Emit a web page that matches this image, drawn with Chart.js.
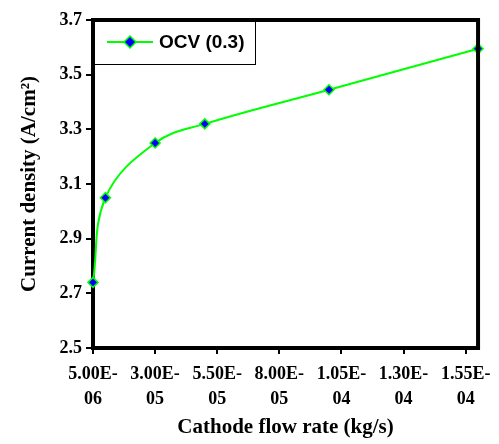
<!DOCTYPE html>
<html>
<head>
<meta charset="utf-8">
<script src="https://cdn.jsdelivr.net/npm/chart.js@4/dist/chart.umd.min.js"></script>
<style>
  html, body { margin: 0; padding: 0; background: #fff; }
  #wrap { width: 499px; height: 444px; }
</style>
</head>
<body>
<div id="wrap"><canvas id="myChart" width="499" height="444"></canvas></div>
<script>
// Data
const flowRates = [5e-6, 1e-5, 3e-5, 5e-5, 1e-4, 1.6e-4];
const currentDensity = [2.74, 3.05, 3.25, 3.32, 3.445, 3.595];
const seriesName = 'OCV (0.3)';

// Tick values and their labels
const xTickValues = [5e-6, 3e-5, 5.5e-5, 8e-5, 1.05e-4, 1.3e-4, 1.55e-4];
const xTickLabels = [['5.00E-', '06'], ['3.00E-', '05'], ['5.50E-', '05'], ['8.00E-', '05'],
                     ['1.05E-', '04'], ['1.30E-', '04'], ['1.55E-', '04']];
const yTickValues = [2.5, 2.7, 2.9, 3.1, 3.3, 3.5, 3.7];

const serif = '"Liberation Serif", "Times New Roman", serif';
const sans = '"Liberation Sans", Arial, sans-serif';

// frame on top/right + the boxed legend in the top-left corner
const framePlugin = {
  id: 'frame',
  afterDraw(chart) {
    const ctx = chart.ctx;
    const a = chart.chartArea;
    ctx.save();
    ctx.strokeStyle = '#000';
    ctx.lineWidth = 4;
    ctx.beginPath();
    ctx.moveTo(a.left - 2, a.top);
    ctx.lineTo(a.right, a.top);
    ctx.lineTo(a.right, a.bottom + 2);
    ctx.stroke();

    // legend box
    const bx = a.left, by = a.top, bw = 162, bh = 44;
    ctx.fillStyle = '#fff';
    ctx.fillRect(bx + 2, by + 2, bw - 2, bh - 2);
    ctx.lineWidth = 1;
    ctx.strokeRect(bx + 0.5, by + 0.5, bw, bh);

    const ly = by + 22;
    ctx.strokeStyle = '#00ff00';
    ctx.lineWidth = 2;
    ctx.beginPath();
    ctx.moveTo(bx + 14, ly);
    ctx.lineTo(bx + 60, ly);
    ctx.stroke();

    // diamond marker
    ctx.beginPath();
    ctx.moveTo(bx + 37, ly - 6);
    ctx.lineTo(bx + 43, ly);
    ctx.lineTo(bx + 37, ly + 6);
    ctx.lineTo(bx + 31, ly);
    ctx.closePath();
    ctx.fillStyle = '#0000ff';
    ctx.fill();
    ctx.lineWidth = 1.5;
    ctx.stroke();

    ctx.fillStyle = '#000';
    ctx.font = 'bold 19px ' + sans;
    ctx.textBaseline = 'middle';
    ctx.fillText(seriesName, bx + 66, ly + 1);
    ctx.restore();
  }
};

const data = {
  datasets: [{
    label: seriesName,
    data: flowRates.map((x, i) => ({ x: x, y: currentDensity[i] })),
    borderColor: '#00ff00',
    borderWidth: 2,
    backgroundColor: '#0000ff',
    pointStyle: 'rectRot',
    pointRadius: 5,
    pointBorderWidth: 1.5,
    pointBorderColor: '#00ff00',
    pointBackgroundColor: '#0000ff',
    tension: 0.4,
    clip: false
  }]
};

const config = {
  type: 'scatter',
  data: data,
  options: {
    responsive: false,
    animation: false,
    showLine: true,
    layout: { padding: { left: 0, top: 20, right: 19, bottom: 0 } },
    plugins: {
      legend: { display: false },
      tooltip: { enabled: false }
    },
    scales: {
      x: {
        type: 'linear',
        min: 5e-6,
        max: 1.6e-4,
        afterFit: (scale) => { scale.height = 96; },
        afterBuildTicks: (scale) => { scale.ticks = xTickValues.map(v => ({ value: v })); },
        border: { display: true, color: '#000', width: 4 },
        grid: { drawOnChartArea: false, drawTicks: true, tickLength: 6, color: '#000', lineWidth: 2 },
        ticks: {
          color: '#000',
          padding: 8,
          maxRotation: 0,
          autoSkip: false,
          font: { family: serif, size: 18, weight: 'bold', lineHeight: 1.4 },
          callback: (value, index) => xTickLabels[index]
        },
        title: {
          display: true,
          text: 'Cathode flow rate (kg/s)',
          color: '#000',
          font: { family: serif, size: 21, weight: 'bold' },
          padding: { top: 0, bottom: 4 }
        }
      },
      y: {
        min: 2.5,
        max: 3.7,
        afterFit: (scale) => { scale.width = 93; },
        afterBuildTicks: (scale) => { scale.ticks = yTickValues.map(v => ({ value: v })); },
        border: { display: true, color: '#000', width: 4 },
        grid: { drawOnChartArea: false, drawTicks: true, tickLength: 7, color: '#000', lineWidth: 2 },
        ticks: {
          color: '#000',
          padding: 4,
          font: { family: serif, size: 18, weight: 'bold' },
          callback: (value) => value.toFixed(1)
        },
        title: {
          display: true,
          text: 'Current density (A/cm\u00b2)',
          color: '#000',
          font: { family: serif, size: 21, weight: 'bold' },
          padding: { top: 17, bottom: 0 }
        }
      }
    }
  },
  plugins: [framePlugin]
};

var myChart = new Chart(document.getElementById('myChart'), config);
</script>
</body>
</html>
